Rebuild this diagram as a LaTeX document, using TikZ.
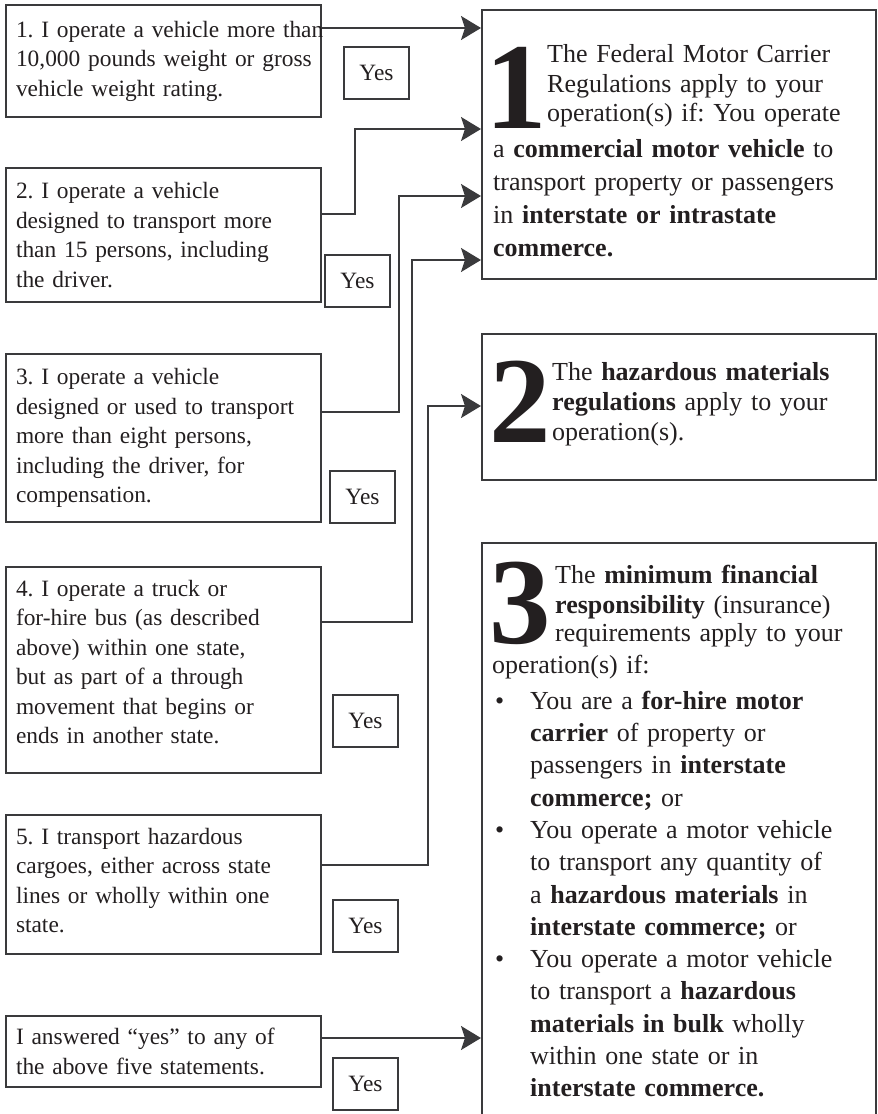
\documentclass[tikz,border=0pt]{standalone}
\usepackage{fontspec}
\setmainfont{Liberation Serif}
\usepackage{tikz}
\usetikzlibrary{arrows.meta}
\frenchspacing
\definecolor{inkgray}{HTML}{3A3A3C}
\definecolor{inkblack}{HTML}{231F20}
\tikzstyle{stmt}=[draw=inkgray,line width=2pt,anchor=north west,text width=315pt,inner xsep=0pt,align=left,text=inkblack,font=\fontsize{23.4}{29.5}\selectfont,execute at begin node={\leftskip=10pt\rightskip=-8pt plus 2em}]
\tikzstyle{yesbox}=[draw=inkgray,line width=2pt,anchor=north west,minimum width=65pt,minimum height=52pt,inner sep=0pt,text=inkblack,font=\fontsize{23.4}{29.5}\selectfont]
\tikzstyle{verdict}=[draw=inkgray,line width=2pt,anchor=north west,minimum width=394pt,inner sep=0pt]
\tikzstyle{verdicttext}=[anchor=base west,inner sep=0pt,text width=375pt,align=left,text=inkblack,font=\fontsize{26}{33}\selectfont]
\tikzstyle{dropcap}=[anchor=base west,inner sep=0pt,text height=83pt,text depth=0pt,text=inkblack,font=\fontsize{123}{123}\selectfont\bfseries]
\tikzstyle{arrowline}=[draw=inkgray,line width=2pt,-{Stealth[length=20pt,width=24pt,inset=4pt]}]

\begin{document}
\begin{tikzpicture}[x=1pt,y=-1pt]

      \useasboundingbox (0,0) rectangle (878,1114);

      \node[stmt, minimum height=112pt] (stmt_1) at (5,4) {1. I operate a vehicle more than\\ 10,000 pounds weight or gross\\ vehicle weight rating.};
      \node[stmt, minimum height=134pt] (stmt_2) at (5,167) {2. I operate a vehicle\\ designed to transport more\\ than 15 persons, including\\ the driver.};
      \node[stmt, minimum height=168pt] (stmt_3) at (5,353) {3. I operate a vehicle\\ designed or used to transport\\ more than eight persons,\\ including the driver, for\\ compensation.};
      \node[stmt, minimum height=206pt] (stmt_4) at (5,566) {4. I operate a truck or\\ for-hire bus (as described\\ above) within one state,\\ but as part of a through\\ movement that begins or\\ ends in another state.\\[-13pt]\mbox{}};
      \node[stmt, minimum height=139pt] (stmt_5) at (5,814) {5. I transport hazardous\\ cargoes, either across state\\ lines or wholly within one\\ state.\\[-21.5pt]\mbox{}};
      \node[stmt, minimum height=71pt] (stmt_6) at (5,1015) {I answered “yes” to any of\\ the above five statements.};

      \node[yesbox] (yes_1) at (343,46) {Yes};
      \node[yesbox] (yes_2) at (324,254) {Yes};
      \node[yesbox] (yes_3) at (329,470) {Yes};
      \node[yesbox] (yes_4) at (332,694) {Yes};
      \node[yesbox] (yes_5) at (332,899) {Yes};
      \node[yesbox] (yes_6) at (332,1057) {Yes};

      \node[verdict, minimum height=269pt] (fmcsr) at (481,9) {};
      \node[verdict, minimum height=146pt] (hazmat) at (481,333) {};
      \node[verdict, minimum height=580pt] (insur) at (481,542) {};

      \node[dropcap] (cap_1) at (485,128) {1};
      \node[verdicttext] (fmcsr_text) at (493,62) {\hspace*{54pt}The Federal Motor Carrier\\[-3pt] \hspace*{54pt}Regulations apply to your\\[-4pt] \hspace*{54pt}operation(s) if: You operate\\[3pt] a \textbf{commercial motor vehicle} to\\ transport property or passengers\\ in \textbf{interstate or intrastate}\\ \textbf{commerce.}};

      \node[dropcap] (cap_2) at (489,442) {2};
      \node[verdicttext, font=\fontsize{26}{30}\selectfont] (hazmat_text) at (552,380) {The \textbf{hazardous materials}\\ \textbf{regulations} apply to your\\ operation(s).};

      \node[dropcap] (cap_3) at (489,643) {3};
      \node[verdicttext, font=\fontsize{26}{32.3}\selectfont] (insur_text) at (492,583) {\hspace*{63pt}The \textbf{minimum financial}\\[-2pt] \hspace*{63pt}\textbf{responsibility} (insurance)\\[-4pt] \hspace*{63pt}requirements apply to your\\ operation(s) if:\\[3pt] \makebox[38pt][l]{\hspace{3pt}\textbullet}You are a \textbf{for-hire motor}\\ \hspace*{38pt}\textbf{carrier} of property or\\ \hspace*{38pt}passengers in \textbf{interstate}\\ \hspace*{38pt}\textbf{commerce;} or\\ \makebox[38pt][l]{\hspace{3pt}\textbullet}You operate a motor vehicle\\ \hspace*{38pt}to transport any quantity of\\ \hspace*{38pt}a \textbf{hazardous materials} in\\ \hspace*{38pt}\textbf{interstate commerce;} or\\ \makebox[38pt][l]{\hspace{3pt}\textbullet}You operate a motor vehicle\\ \hspace*{38pt}to transport a \textbf{hazardous}\\ \hspace*{38pt}\textbf{materials in bulk} wholly\\ \hspace*{38pt}within one state or in\\ \hspace*{38pt}\textbf{interstate commerce.}};

      \draw[arrowline] (stmt_1.east |- 0,28) -- (fmcsr.west |- 0,28);
      \draw[arrowline] (stmt_2.east |- 0,214) -- ++(33,0) |- (fmcsr.west |- 0,129);
      \draw[arrowline] (stmt_3.east |- 0,412) -- ++(77,0) |- (fmcsr.west |- 0,196);
      \draw[arrowline] (stmt_4.east |- 0,622) -- ++(90,0) |- (fmcsr.west |- 0,260);
      \draw[arrowline] (stmt_5.east |- 0,865) -- ++(106,0) |- (hazmat.west |- 0,406);
      \draw[arrowline] (stmt_6.east |- 0,1038) -- (insur.west |- 0,1038);
    \end{tikzpicture}
\end{document}
